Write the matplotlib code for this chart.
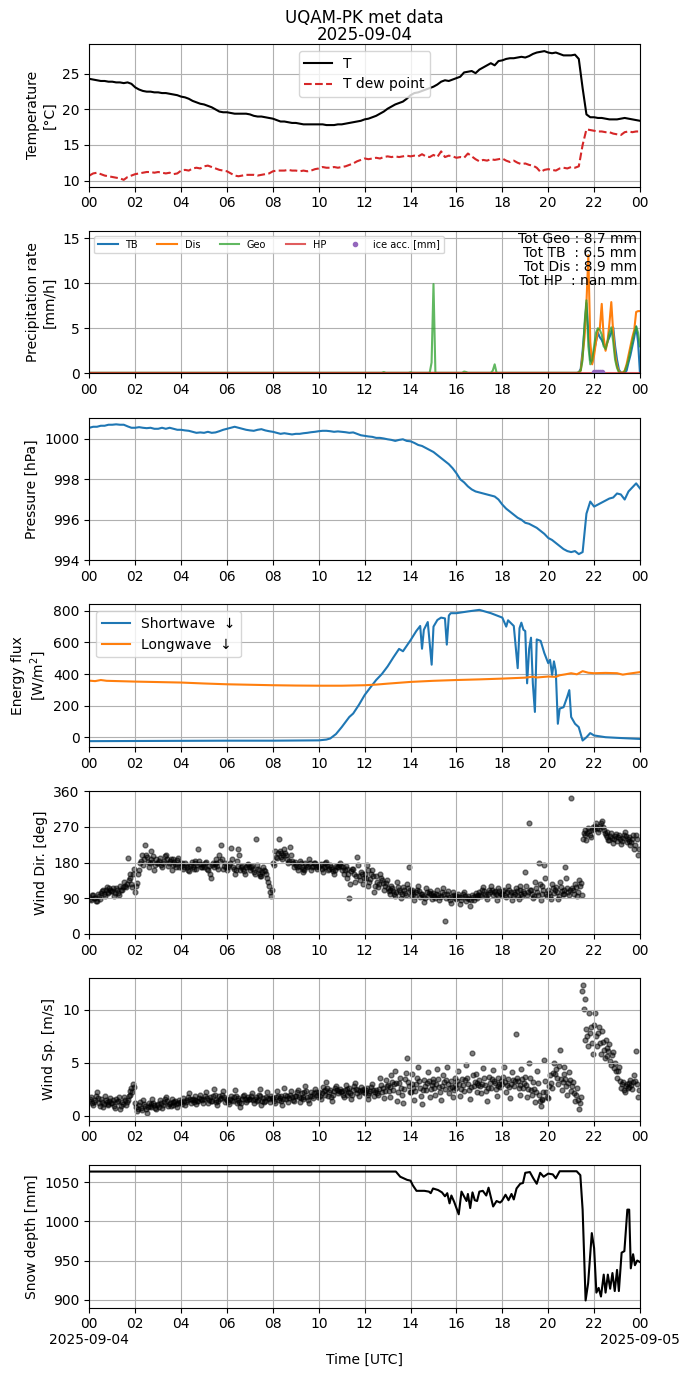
import matplotlib
matplotlib.use('Agg')
import matplotlib.pyplot as plt
import matplotlib.dates as mdates
import numpy as np
import pandas as pd

day = pd.Timestamp('2025-09-04')
t10 = pd.date_range(day, periods=145, freq='10min')   # 00:00 .. 24:00
t5 = pd.date_range(day, periods=289, freq='5min')     # 00:00 .. 24:00
tw = pd.date_range(day, periods=576, freq='150s')     # wind, every 2.5 min


def at(hours):
    return day + pd.to_timedelta(np.asarray(hours), unit='h')


# --- Temperature / dew point (10 min) ---
temp = [24.3, 24.2, 24.1, 24.0, 24.0, 23.9,
        23.9, 23.8, 23.8, 23.7, 23.8, 23.6,
        23.1, 22.8, 22.6, 22.5, 22.5, 22.4,
        22.4, 22.3, 22.3, 22.2, 22.1, 22.0,
        21.8, 21.7, 21.5, 21.2, 21.0, 20.8,
        20.7, 20.5, 20.3, 20.0, 19.7, 19.6,
        19.6, 19.5, 19.4, 19.4, 19.4, 19.4,
        19.3, 19.1, 19.0, 19.0, 18.9, 18.8,
        18.7, 18.5, 18.3, 18.3, 18.2, 18.1,
        18.1, 18.0, 17.9, 17.9, 17.9, 17.9,
        17.9, 17.9, 17.8, 17.8, 17.8, 17.9,
        17.9, 18.0, 18.1, 18.2, 18.3, 18.4,
        18.6, 18.7, 18.9, 19.1, 19.4, 19.7,
        20.1, 20.4, 20.7, 20.9, 21.1, 21.5,
        22.0, 22.3, 22.4, 22.6, 22.8, 23.0,
        23.2, 23.5, 23.9, 24.1, 24.0, 24.2,
        24.4, 24.6, 25.2, 25.3, 25.4, 25.1,
        25.6, 25.9, 26.2, 26.5, 26.2, 26.8,
        26.9, 27.1, 27.2, 27.2, 27.3, 27.4,
        27.3, 27.5, 27.8, 28.0, 28.1, 28.2,
        28.0, 27.9, 28.0, 27.8, 27.6, 27.6,
        27.6, 27.7, 27.1, 23.0, 19.3, 18.9,
        18.9, 18.8, 18.8, 18.7, 18.6, 18.6,
        18.6, 18.7, 18.8, 18.7, 18.6, 18.5,
        18.4]
dewp = [10.7, 11.0, 11.1, 10.9, 10.7, 10.6,
        10.5, 10.4, 10.3, 10.1, 10.5, 10.7,
        10.9, 11.0, 11.1, 11.2, 11.2, 11.1,
        11.2, 11.1, 11.0, 11.1, 10.9, 11.0,
        11.4, 11.5, 11.4, 11.7, 11.8, 11.7,
        12.0, 12.1, 11.9, 11.7, 11.5, 11.4,
        11.3, 11.0, 10.7, 10.6, 10.7, 10.8,
        10.8, 10.8, 10.7, 10.8, 10.9, 11.0,
        11.3, 11.4, 11.4, 11.4, 11.5, 11.4,
        11.4, 11.3, 11.4, 11.3, 11.4, 11.6,
        11.7, 11.9, 11.8, 11.8, 11.9, 11.8,
        11.9, 12.0, 12.2, 12.4, 12.7, 12.9,
        13.1, 13.0, 13.1, 13.2, 13.1, 13.3,
        13.4, 13.3, 13.4, 13.3, 13.4, 13.5,
        13.4, 13.5, 13.4, 13.7, 13.4, 13.3,
        13.6, 13.3, 14.1, 13.3, 13.5, 13.4,
        13.2, 13.3, 13.2, 13.8, 13.4, 13.0,
        12.7, 12.9, 12.8, 13.0, 12.9, 13.0,
        13.1, 12.8, 12.6, 12.8, 12.5, 12.3,
        12.4, 12.2, 12.1, 11.8, 11.2, 11.5,
        11.6, 11.5, 11.4, 11.7, 11.8, 11.7,
        11.9, 11.8, 12.0, 15.0, 17.2, 17.1,
        17.0, 16.9, 16.9, 16.8, 16.8, 16.6,
        16.5, 16.4, 16.8, 16.9, 16.8, 16.9,
        16.9]

# --- Precipitation rate (5 min) ---
tb_event = [0.05, 0.05, 0.05, 0.05, 0.1, 0.5, 2.5, 5.0, 7.8, 4.5, 1.5, 1.2,
            2.5, 3.5, 4.5, 4.0, 3.7, 3.2, 2.9, 3.5, 4.0, 4.5, 5.1, 3.0,
            1.5, 0.4, 0.1, 0.05, 0.05, 0.3, 1.2, 2.0, 3.0, 4.0, 5.2, 3.5, 0.0]
dis_event = [0.05, 0.05, 0.05, 0.05, 0.1, 0.3, 2.0, 4.0, 7.8, 13.1, 3.5, 1.0,
             2.0, 3.5, 4.8, 5.0, 7.7, 4.0, 2.5, 3.5, 5.5, 7.9, 4.5, 2.0,
             0.8, 0.2, 0.05, 0.1, 0.3, 1.0, 2.0, 3.0, 4.0, 4.8, 6.8, 6.9, 6.9]
geo_event = [0.05, 0.05, 0.05, 0.05, 0.1, 0.3, 1.5, 5.5, 8.1, 3.0, 1.0, 1.5,
             3.0, 4.5, 5.0, 4.8, 4.3, 3.0, 2.7, 3.5, 4.5, 5.1, 3.5, 1.5,
             0.6, 0.1, 0.05, 0.05, 0.2, 0.8, 1.5, 2.5, 3.5, 4.5, 5.2, 4.5, 3.0]
rate_tb = [0.05] * 252 + tb_event
rate_dis = [0.05] * 252 + dis_event
rate_geo = ([0.05] * 154 + [0.15] + [0.05] * 13 + [0.12] + [0.05] * 10
            + [1.2, 9.9] + [0.05] * 15 + [0.2, 0.15] + [0.05] * 13
            + [0.3, 1.0] + [0.05] * 39 + geo_event)
rate_hp = [0.0] * 289
ice_hours = [22.0, 22.08, 22.17, 22.25, 22.33]
ice_acc = [0.15, 0.2, 0.2, 0.18, 0.2]
totals_text = ('Tot Geo : 8.7 mm\nTot TB  : 6.5 mm\n'
               'Tot Dis : 8.9 mm\nTot HP  : nan mm')

# --- Pressure (10 min) ---
pres = [1000.55, 1000.6, 1000.6, 1000.65, 1000.65, 1000.7,
        1000.7, 1000.72, 1000.7, 1000.7, 1000.62, 1000.55,
        1000.55, 1000.58, 1000.55, 1000.53, 1000.55, 1000.5,
        1000.5, 1000.55, 1000.5, 1000.55, 1000.5, 1000.45,
        1000.45, 1000.42, 1000.4, 1000.35, 1000.3, 1000.32,
        1000.3, 1000.35, 1000.3, 1000.32, 1000.38, 1000.45,
        1000.5, 1000.55, 1000.6, 1000.55, 1000.5, 1000.45,
        1000.42, 1000.4, 1000.45, 1000.48, 1000.42, 1000.38,
        1000.35, 1000.3, 1000.25, 1000.28, 1000.25, 1000.22,
        1000.25, 1000.25, 1000.28, 1000.3, 1000.33, 1000.35,
        1000.38, 1000.4, 1000.4, 1000.38, 1000.35, 1000.37,
        1000.35, 1000.33, 1000.3, 1000.32, 1000.25, 1000.18,
        1000.15, 1000.12, 1000.1, 1000.05, 1000.05, 1000.02,
        999.98, 999.95, 999.9, 999.95, 999.98, 999.9,
        999.88, 999.8, 999.7, 999.65, 999.55, 999.45,
        999.35, 999.2, 999.05, 998.9, 998.75, 998.55,
        998.3, 998.0, 997.85, 997.65, 997.5, 997.4,
        997.35, 997.3, 997.25, 997.2, 997.15, 997.0,
        996.75, 996.55, 996.4, 996.25, 996.1, 996.0,
        995.85, 995.8, 995.7, 995.6, 995.45, 995.3,
        995.1, 995.0, 994.85, 994.7, 994.55, 994.45,
        994.4, 994.45, 994.3, 994.4, 996.3, 996.9,
        996.65, 996.75, 996.85, 996.95, 997.05, 997.1,
        997.3, 997.25, 997.0, 997.4, 997.6, 997.8,
        997.55]

# --- Radiation ---
sw_hours = [0, 2, 4, 6, 8, 10, 10.33, 10.5, 10.75, 11, 11.33, 11.5, 11.75,
            12, 12.25, 12.5, 12.75, 13, 13.25, 13.5, 13.67, 14, 14.25, 14.42,
            14.5, 14.58, 14.75, 14.92, 15.0, 15.17, 15.33, 15.5, 15.58, 15.67,
            15.75, 16, 16.5, 17, 17.5, 18, 18.17, 18.25, 18.5, 18.67, 18.75,
            18.83, 18.92, 19.0, 19.08, 19.17, 19.25, 19.33, 19.42, 19.5, 19.67,
            19.83, 20.0, 20.08, 20.17, 20.25, 20.33, 20.42, 20.5, 20.67, 20.83,
            20.92, 21.0, 21.17, 21.33, 21.5, 21.67, 21.83, 22.0, 22.5, 23.0, 24.0]
sw_down = [-25, -24, -23, -22, -22, -20, -15, -8, 20, 64, 128, 150, 205,
           267, 315, 362, 400, 448, 505, 559, 544, 614, 672, 704,
           560, 680, 729, 459, 700, 742, 757, 752, 586, 770,
           785, 785, 796, 806, 785, 757, 700, 740, 704, 437, 690,
           725, 680, 672, 341, 560, 630, 340, 160, 619, 610,
           533, 469, 490, 394, 480, 420, 85, 181, 190, 256,
           298, 128, 85, 64, -21, 0, 26, 11, 0, -4, -11]
lw_hours = [0, 0.25, 0.5, 0.75, 1, 2, 3, 4, 5, 6, 7, 8, 9, 10, 11, 12, 12.5,
            13, 14, 15, 16, 17, 18, 18.5, 19, 19.33, 19.5, 19.75, 20, 20.33,
            20.5, 20.75, 21, 21.25, 21.5, 21.75, 22, 22.5, 23, 23.25, 23.5, 24]
lw_down = [358, 355, 362, 357, 356, 352, 349, 346, 340, 335, 332, 329, 327,
           326, 326, 329, 333, 339, 350, 357, 362, 366, 371, 374, 377, 383,
           378, 381, 384, 382, 392, 398, 405, 398, 418, 408, 405, 407, 405,
           396, 402, 412]

# --- Wind (every 2.5 min, one row per hour) ---
wind_dir = [
    92, 88, 85, 97, 98, 90, 90, 84, 82, 100, 95, 88,
    102, 108, 110, 100, 96, 112, 118, 104, 105, 115, 112, 108,
    108, 115, 96, 104, 115, 110, 104, 98, 122, 112, 110, 118,
    130, 122, 118, 125, 192, 135, 140, 150, 125, 118, 150, 165,
    105, 120, 128, 150, 162, 178, 185, 200, 175, 190, 225, 200,
    195, 182, 170, 178, 210, 188, 182, 196, 160, 175, 188, 180,
    178, 185, 192, 175, 168, 180, 185, 196, 200, 188, 172, 178,
    183, 190, 160, 175, 190, 182, 176, 168, 186, 192, 170, 178,
    172, 180, 165, 170, 180, 175, 168, 160, 158, 172, 175, 182,
    170, 165, 185, 178, 163, 175, 215, 185, 176, 170, 168, 175,
    170, 178, 182, 165, 160, 172, 150, 140, 175, 180, 168, 176,
    188, 178, 172, 165, 200, 185, 224, 190, 165, 172, 178, 168,
    162, 170, 175, 180, 218, 190, 170, 165, 150, 162, 185, 172,
    215, 200, 160, 168, 172, 165, 158, 150, 168, 175, 176, 170,
    160, 168, 172, 165, 155, 150, 240, 175, 165, 160, 150, 145,
    145, 155, 170, 162, 158, 150, 140, 132, 120, 105, 95, 110,
    180, 175, 210, 195, 192, 205, 240, 210, 205, 195, 188, 200,
    215, 205, 198, 190, 178, 185, 220, 200, 185, 178, 170, 182,
    175, 168, 162, 172, 185, 178, 170, 165, 155, 162, 180, 175,
    168, 172, 190, 180, 160, 168, 172, 180, 178, 170, 165, 172,
    168, 175, 176, 165, 155, 168, 170, 178, 182, 175, 160, 165,
    175, 170, 165, 158, 150, 162, 172, 168, 168, 175, 180, 172,
    160, 168, 150, 162, 172, 165, 140, 150, 90, 125, 158, 165,
    165, 150, 130, 145, 195, 175, 145, 135, 155, 150, 125, 140,
    150, 140, 175, 160, 120, 132, 138, 150, 160, 145, 105, 120,
    145, 130, 118, 125, 150, 140, 135, 128, 112, 120, 128, 135,
    115, 108, 100, 112, 122, 115, 108, 100, 95, 105, 130, 118,
    112, 105, 90, 100, 118, 110, 104, 98, 125, 115, 170, 110,
    98, 105, 112, 100, 85, 95, 105, 112, 120, 108, 92, 100,
    100, 95, 80, 90, 115, 105, 96, 102, 108, 100, 88, 95,
    102, 95, 90, 100, 110, 98, 85, 92, 95, 105, 115, 100,
    33, 90, 100, 108, 92, 85, 78, 95, 105, 98, 96, 90,
    88, 95, 100, 92, 75, 85, 92, 100, 105, 95, 82, 90,
    95, 88, 70, 85, 98, 92, 86, 95, 102, 95, 90, 98,
    105, 98, 95, 110, 118, 108, 100, 95, 88, 100, 112, 105,
    122, 110, 98, 105, 108, 100, 85, 95, 115, 108, 102, 100,
    100, 108, 110, 98, 92, 105, 120, 110, 98, 105, 85, 95,
    105, 100, 115, 108, 95, 88, 122, 110, 100, 95, 108, 102,
    155, 120, 98, 105, 280, 110, 112, 100, 90, 95, 130, 115,
    105, 98, 180, 125, 85, 100, 120, 110, 174, 140, 100, 95,
    110, 102, 95, 88, 125, 115, 102, 110, 118, 105, 88, 95,
    130, 118, 108, 100, 100, 112, 170, 140, 115, 105, 98, 110,
    344, 115, 110, 100, 125, 118, 95, 105, 135, 120, 128, 98,
    240, 255, 262, 250, 238, 255, 268, 260, 250, 245, 262, 270,
    265, 272, 280, 268, 258, 265, 272, 280, 285, 270, 262, 255,
    250, 258, 245, 238, 238, 248, 255, 242, 230, 240, 248, 252,
    235, 245, 250, 240, 228, 235, 242, 250, 258, 248, 232, 240,
    245, 235, 225, 232, 240, 250, 215, 225, 250, 240, 200, 215]
wind_sp = [
    1.4, 1.6, 1.8, 1.2, 1.0, 1.3, 1.5, 1.9, 2.2, 1.7, 1.2, 0.9,
    1.6, 1.3, 0.8, 1.1, 1.9, 1.5, 1.3, 1.0, 1.1, 1.4, 1.7, 1.2,
    1.2, 1.5, 0.9, 0.7, 1.6, 1.3, 1.4, 1.8, 0.6, 0.9, 1.3, 1.1,
    1.8, 1.5, 1.0, 1.3, 1.5, 1.9, 2.0, 2.3, 2.6, 2.2, 3.0, 2.7,
    1.2, 0.8, 0.4, 0.6, 1.0, 1.3, 0.7, 0.5, 1.5, 1.1, 0.9, 0.6,
    0.3, 0.8, 1.2, 0.9, 0.8, 1.1, 1.6, 1.2, 1.0, 0.7, 0.6, 1.0,
    1.1, 0.8, 1.5, 1.2, 0.7, 1.0, 1.3, 1.6, 1.8, 1.4, 0.9, 1.1,
    1.2, 0.9, 1.6, 1.3, 1.0, 1.3, 1.4, 1.1, 0.8, 1.2, 1.5, 1.3,
    1.3, 1.1, 1.7, 1.4, 1.0, 1.3, 1.5, 1.8, 2.1, 1.6, 1.2, 1.5,
    1.6, 1.3, 1.9, 1.5, 1.1, 1.4, 1.4, 1.7, 2.0, 1.6, 1.5, 1.2,
    1.6, 1.9, 2.2, 1.7, 1.2, 1.5, 1.8, 1.4, 1.4, 1.9, 2.5, 2.0,
    1.5, 1.3, 1.0, 1.4, 1.9, 1.6, 1.7, 2.0, 2.3, 1.8, 1.3, 1.6,
    1.5, 1.3, 1.1, 1.6, 1.9, 1.5, 1.4, 1.8, 2.4, 1.9, 1.2, 1.5,
    1.7, 1.3, 0.8, 1.2, 1.6, 1.9, 2.0, 1.6, 1.3, 1.5, 1.8, 1.6,
    1.6, 1.9, 2.1, 1.5, 1.2, 1.6, 1.8, 1.4, 1.5, 2.0, 2.5, 1.9,
    1.0, 1.4, 1.7, 1.3, 1.4, 1.8, 2.2, 1.7, 1.6, 1.3, 1.9, 1.7,
    1.7, 1.4, 1.2, 1.8, 2.3, 1.9, 1.5, 1.7, 1.9, 1.4, 1.0, 1.6,
    2.6, 2.0, 1.6, 1.9, 1.3, 1.7, 2.0, 2.3, 1.8, 1.5, 1.4, 1.9,
    1.9, 2.2, 2.4, 1.8, 1.3, 1.7, 2.1, 1.8, 1.6, 2.2, 2.8, 2.3,
    1.8, 1.5, 1.2, 1.9, 2.2, 1.9, 1.7, 2.1, 2.5, 2.2, 2.0, 1.8,
    2.2, 1.9, 1.6, 2.1, 2.7, 2.3, 2.0, 2.4, 3.2, 2.6, 1.9, 2.2,
    2.4, 1.8, 1.4, 2.0, 2.3, 2.6, 2.8, 2.4, 2.1, 2.3, 2.5, 2.2,
    2.3, 2.0, 1.8, 2.4, 2.9, 2.5, 2.0, 2.2, 2.6, 2.1, 1.6, 2.0,
    2.4, 2.8, 3.1, 2.5, 2.1, 2.4, 1.9, 2.3, 2.7, 2.4, 2.2, 2.5,
    2.1, 2.4, 2.6, 2.0, 1.6, 2.1, 2.3, 2.7, 3.0, 2.4, 1.9, 2.2,
    2.4, 2.1, 2.0, 2.5, 3.6, 2.9, 2.2, 2.6, 1.7, 2.3, 3.4, 2.8,
    2.9, 2.3, 1.8, 2.7, 3.8, 3.2, 2.4, 3.0, 4.2, 3.1, 1.4, 2.2,
    3.1, 3.6, 2.6, 2.0, 1.2, 2.5, 3.5, 4.0, 5.5, 3.2, 2.8, 2.2,
    2.2, 3.0, 3.9, 2.6, 1.5, 2.3, 3.0, 3.6, 4.6, 3.3, 2.6, 1.9,
    1.1, 2.4, 3.4, 2.8, 2.4, 3.1, 4.1, 3.3, 1.8, 2.5, 2.9, 3.5,
    3.2, 2.6, 2.0, 3.0, 4.4, 3.5, 2.7, 2.2, 1.5, 2.8, 3.8, 3.2,
    2.5, 3.4, 4.6, 3.0, 2.1, 2.6, 3.3, 2.7, 1.8, 2.4, 2.9, 3.6,
    2.6, 3.3, 4.2, 3.0, 1.9, 2.5, 3.5, 2.9, 2.3, 3.4, 4.8, 3.6,
    3.0, 2.4, 1.6, 2.7, 5.9, 3.8, 2.8, 3.2, 3.9, 3.1, 2.2, 2.9,
    3.4, 2.8, 2.1, 3.0, 4.5, 3.6, 2.9, 2.3, 1.4, 2.6, 3.7, 3.1,
    2.6, 3.5, 4.3, 3.3, 3.1, 2.5, 1.9, 2.8, 3.6, 3.0, 2.7, 3.3,
    3.0, 3.7, 4.6, 3.2, 2.2, 2.9, 3.5, 2.7, 1.7, 3.0, 4.1, 3.4,
    2.8, 3.3, 7.7, 3.6, 3.3, 2.6, 2.0, 2.9, 4.4, 3.5, 2.6, 3.1,
    3.7, 2.9, 1.8, 2.5, 5.0, 3.6, 2.4, 2.0, 3.2, 2.5, 1.3, 2.2,
    4.2, 3.1, 2.0, 1.4, 0.9, 1.6, 1.5, 2.2, 5.3, 3.3, 2.2, 1.8,
    1.7, 2.8, 3.8, 3.1, 2.6, 4.0, 5.0, 3.9, 4.4, 3.6, 3.0, 4.7,
    6.2, 3.5, 2.4, 3.2, 4.6, 3.9, 3.5, 2.8, 2.0, 3.1, 4.1, 3.4,
    2.3, 2.8, 3.2, 2.1, 1.4, 2.0, 2.6, 1.5, 0.6, 1.2, 1.8, 11.8,
    12.4, 10.1, 7.2, 11.0, 8.2, 7.5, 6.6, 9.7, 7.8, 8.4, 6.9, 5.8,
    8.6, 9.7, 7.5, 6.6, 7.8, 8.4, 6.9, 5.8, 8.0, 7.0, 6.2, 5.5,
    7.2, 6.4, 5.6, 6.1, 6.8, 5.2, 4.8, 5.7, 6.0, 4.5, 5.0, 4.2,
    3.6, 4.2, 4.6, 3.3, 2.6, 3.0, 3.2, 2.4, 2.2, 2.8, 3.0, 2.6,
    2.7, 3.1, 3.4, 2.9, 2.5, 3.2, 3.8, 3.3, 6.1, 3.0, 1.8, 2.4]

# --- Snow depth ---
snow_hours = [0, 13.36, 13.55, 13.7, 13.85, 14.0, 14.1, 14.26, 14.6, 14.8,
              14.88, 14.98, 15.2, 15.37, 15.5, 15.6, 15.7, 15.78, 15.9, 16.1,
              16.22, 16.33, 16.44, 16.5, 16.6, 16.7, 16.8, 16.9, 17.0, 17.15,
              17.3, 17.4, 17.6, 17.75, 17.9, 17.98, 18.14, 18.27, 18.4, 18.5,
              18.62, 18.78, 18.9, 19.0, 19.2, 19.35, 19.5, 19.65, 19.8, 20.0,
              20.2, 20.33, 20.5, 21.24, 21.4, 21.5, 21.63, 21.74, 21.9, 22.0,
              22.1, 22.2, 22.3, 22.42, 22.5, 22.6, 22.7, 22.8, 22.9, 23.0,
              23.08, 23.2, 23.32, 23.45, 23.53, 23.6, 23.7, 23.78, 23.88, 24.0]
snow = [1063.6, 1063.6, 1057, 1055, 1053, 1052, 1046, 1039, 1039, 1038,
        1036, 1042, 1040, 1037, 1032, 1036, 1023, 1033, 1025, 1009,
        1038, 1032, 1026, 1035, 1017, 1037, 1027, 1026, 1038, 1039,
        1033, 1043, 1019, 1026, 1024, 1026, 1034, 1027, 1035, 1028,
        1042, 1048, 1049, 1062, 1063, 1055, 1048, 1062, 1057, 1061,
        1060, 1055, 1064, 1064, 1059, 1015, 899, 921, 985, 966,
        909, 915, 904, 932, 909, 932, 914, 934, 911, 938,
        911, 960, 962, 1015, 1015, 940, 958, 944, 950, 948]

# --- Figure ---
fig, axes = plt.subplots(7, 1, figsize=(6.9, 13.77), dpi=100)
fig.subplots_adjust(left=0.1295, right=0.9275, top=1 - 44 / 1377,
                    bottom=1 - 1307.5 / 1377, hspace=0.311)
ax1, ax2, ax3, ax4, ax5, ax6, ax7 = axes

# Temperature
ax1.plot(t10, temp, color='k', lw=1.5, label='T')
ax1.plot(t10, dewp, color='tab:red', ls='--', lw=1.5, label='T dew point')
ax1.set_ylim(9.16, 29.2)
ax1.set_ylabel('Temperature\n[°C]')
ax1.set_title('UQAM-PK met data\n2025-09-04', linespacing=0.96, pad=2.5)
ax1.legend(loc='upper center')

# Precipitation
ax2.plot(t5, rate_tb, color='tab:blue', lw=1.5, label='TB')
ax2.plot(t5, rate_dis, color='tab:orange', lw=1.5, label='Dis')
ax2.plot(t5, rate_geo, color='tab:green', lw=1.5, alpha=0.75, label='Geo')
ax2.plot(t5, rate_hp, color='tab:red', lw=1.5, alpha=0.75, label='HP')
ax2.plot(at(ice_hours), ice_acc, 'o', color='tab:purple', ms=3, ls='none',
         label='ice acc. [mm]')
ax2.set_ylim(0, 15.8)
ax2.set_ylabel('Precipitation rate\n[mm/h]')
ax2.legend(loc='upper left', ncol=5, fontsize=7)
ax2.text(0.995, 0.99, totals_text, transform=ax2.transAxes,
         ha='right', va='top', multialignment='right', linespacing=1.0)

# Pressure
ax3.plot(t10, pres, color='tab:blue', lw=1.5)
ax3.set_ylim(994, 1001.05)
ax3.set_yticks([994, 996, 998, 1000])
ax3.set_ylabel('Pressure [hPa]')

# Radiation
ax4.plot(at(sw_hours), sw_down, color='tab:blue', lw=1.5, label='Shortwave  ↓')
ax4.plot(at(lw_hours), lw_down, color='tab:orange', lw=1.5, label='Longwave  ↓')
ax4.set_ylim(-62, 840)
ax4.set_ylabel('Energy flux\n[W/m$^2$]')
ax4.legend(loc='upper left')

# Wind direction
ax5.scatter(tw, wind_dir, s=12, c='k', alpha=0.5)
ax5.set_ylim(0, 360)
ax5.set_yticks([0, 90, 180, 270, 360])
ax5.set_ylabel('Wind Dir. [deg]')

# Wind speed
ax6.scatter(tw, wind_sp, s=12, c='k', alpha=0.5)
ax6.set_ylim(-0.47, 13.0)
ax6.set_ylabel('Wind Sp. [m/s]')

# Snow depth
ax7.plot(at(snow_hours), snow, color='k', lw=1.5)
ax7.set_ylim(890, 1072)
ax7.set_yticks([900, 950, 1000, 1050])
ax7.set_ylabel('Snow depth [mm]')
ax7.set_xlabel('Time [UTC]')

hours_fmt = mdates.DateFormatter('%H')


def last_fmt(x, pos=None):
    d = mdates.num2date(x)
    if d.hour == 0:
        return d.strftime('%H\n%Y-%m-%d')
    return d.strftime('%H')


for ax in axes:
    ax.set_xlim(day, day + pd.Timedelta(hours=24))
    ax.xaxis.set_major_locator(mdates.HourLocator(byhour=range(0, 24, 2)))
    ax.xaxis.set_major_formatter(hours_fmt)
    ax.grid(True)
ax7.xaxis.set_major_formatter(plt.FuncFormatter(last_fmt))

fig.savefig('out.png', dpi=100, facecolor='white')
